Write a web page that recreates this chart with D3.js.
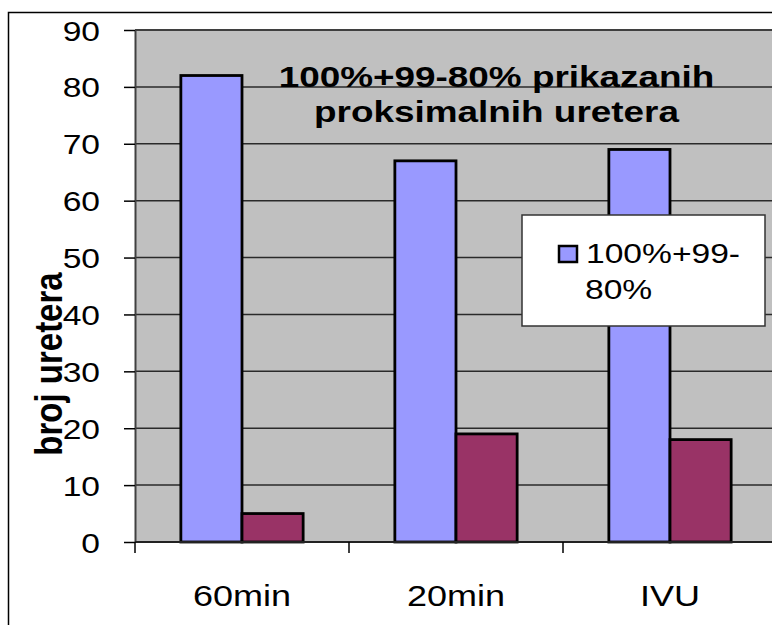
<!DOCTYPE html>
<html>
<head>
<meta charset="utf-8">
<script src="https://cdn.jsdelivr.net/npm/d3@7"></script>
<style>
  body { margin: 0; background: #fff; }
  text { font-family: "Liberation Sans", Arial, sans-serif; fill: #000; }
</style>
</head>
<body>
<div id="chart"></div>
<script>
var categories = ["60min", "20min", "IVU"];
var seriesNames = ["100%+99-80%", "other"];
var blueValues = [82, 67, 69];
var maroonValues = [5, 19, 18];
var yTicks = [0, 10, 20, 30, 40, 50, 60, 70, 80, 90];
var titleLines = ["100%+99-80% prikazanih", "proksimalnih uretera"];
var legendLines = ["100%+99-", "80%"];
var yTitle = "broj uretera";

var W = 772, H = 625,
    sx = 1.2, // text in the picture is stretched sideways
    plot = { left: 135, top: 30, right: 777, bottom: 542 };

var svg = d3.select("#chart").append("svg")
    .attr("width", W)
    .attr("height", H);

// outer frame
svg.append("rect")
    .attr("x", 8.5).attr("y", 12.5)
    .attr("width", W + 20).attr("height", H + 20)
    .attr("fill", "#fff")
    .attr("stroke", "#000")
    .attr("stroke-width", 1.5);

var x0 = d3.scaleBand()
    .domain(categories)
    .range([plot.left, plot.right])
    .paddingInner(0).paddingOuter(0);
var x1 = d3.scaleBand()
    .domain(seriesNames)
    .range([0, x0.bandwidth()])
    .paddingInner(0).paddingOuter(0.75);
var y = d3.scaleLinear()
    .domain([0, 90])
    .range([plot.bottom, plot.top]);
var color = d3.scaleOrdinal()
    .domain(seriesNames)
    .range(["#9999FF", "#993366"]);

// plot background
svg.append("rect")
    .attr("x", plot.left).attr("y", plot.top)
    .attr("width", W - plot.left + 10).attr("height", plot.bottom - plot.top)
    .attr("fill", "#C0C0C0");
svg.append("line")
    .attr("x1", plot.left).attr("x2", W)
    .attr("y1", plot.top).attr("y2", plot.top)
    .attr("stroke", "#808080").attr("stroke-width", 2);

// gridlines
svg.append("g").selectAll("line")
    .data(yTicks.slice(1))
    .join("line")
    .attr("x1", plot.left).attr("x2", W)
    .attr("y1", function(d) { return y(d); })
    .attr("y2", function(d) { return y(d); })
    .attr("stroke", "#2a2a2a").attr("stroke-width", 1.5);

// bars
var rows = categories.map(function(c, i) {
    return { cat: c, vals: [blueValues[i], maroonValues[i]] };
});
svg.append("g").selectAll("g")
    .data(rows)
    .join("g")
    .attr("transform", function(d) { return "translate(" + x0(d.cat) + ",0)"; })
    .selectAll("rect")
    .data(function(d) {
        return d.vals.map(function(v, j) { return { key: seriesNames[j], v: v }; });
    })
    .join("rect")
    .attr("x", function(d) { return x1(d.key); })
    .attr("y", function(d) { return y(d.v); })
    .attr("width", x1.bandwidth())
    .attr("height", function(d) { return y(0) - y(d.v); })
    .attr("fill", function(d) { return color(d.key); })
    .attr("stroke", "#000")
    .attr("stroke-width", 2.8);

// y axis
var yAxis = svg.append("g")
    .attr("transform", "translate(" + plot.left + ",0)")
    .call(d3.axisLeft(y).tickValues(yTicks).tickSize(11).tickSizeOuter(0));
yAxis.select(".domain").attr("stroke", "#404040").attr("stroke-width", 2);
yAxis.selectAll(".tick line").attr("stroke", "#000").attr("stroke-width", 1.5);
yAxis.selectAll(".tick text")
    .attr("x", 0).attr("dy", "0.36em")
    .attr("transform", "translate(-35,0) scale(" + sx + ",1)")
    .style("font-size", "28px")
    .style("font-family", "Liberation Sans, Arial, sans-serif")
    .attr("fill", "#000");

// x axis line and category ticks
svg.append("line")
    .attr("x1", plot.left).attr("x2", W)
    .attr("y1", plot.bottom).attr("y2", plot.bottom)
    .attr("stroke", "#222").attr("stroke-width", 2);
svg.append("g").selectAll("line")
    .data(categories)
    .join("line")
    .attr("x1", function(d) { return x0(d); })
    .attr("x2", function(d) { return x0(d); })
    .attr("y1", plot.bottom).attr("y2", plot.bottom + 11)
    .attr("stroke", "#000").attr("stroke-width", 1.5);
svg.append("g").selectAll("text")
    .data(categories)
    .join("text")
    .attr("transform", function(d) {
        return "translate(" + (x0(d) + x0.bandwidth() / 2) + ",606) scale(" + sx + ",1)";
    })
    .attr("text-anchor", "middle")
    .style("font-size", "30px")
    .text(function(d) { return d; });

// chart title inside plot
svg.append("g").selectAll("text")
    .data(titleLines)
    .join("text")
    .attr("transform", function(d, i) {
        return "translate(496.5," + (86.5 + i * 35) + ") scale(1.23,1)";
    })
    .attr("text-anchor", "middle")
    .style("font-size", "30px")
    .style("font-weight", "bold")
    .text(function(d) { return d; });

// y axis title
svg.append("text")
    .attr("transform", "translate(62,364) scale(" + sx + ",1) rotate(-90)")
    .attr("text-anchor", "middle")
    .style("font-size", "33px")
    .style("font-weight", "bold")
    .text(yTitle);

// legend
var legend = svg.append("g");
legend.append("rect")
    .attr("x", 522).attr("y", 215)
    .attr("width", 243).attr("height", 111)
    .attr("fill", "#fff")
    .attr("stroke", "#333").attr("stroke-width", 1.5);
legend.append("rect")
    .attr("x", 559).attr("y", 246)
    .attr("width", 18).attr("height", 16)
    .attr("fill", color(seriesNames[0]))
    .attr("stroke", "#000").attr("stroke-width", 2.5);
legend.selectAll("text.lg")
    .data(legendLines)
    .join("text")
    .attr("class", "lg")
    .attr("transform", function(d, i) {
        return "translate(" + (i === 0 ? 586 : 585) + "," + (263 + i * 36) + ") scale(" + sx + ",1)";
    })
    .style("font-size", "28px")
    .text(function(d) { return d; });
</script>
</body>
</html>
